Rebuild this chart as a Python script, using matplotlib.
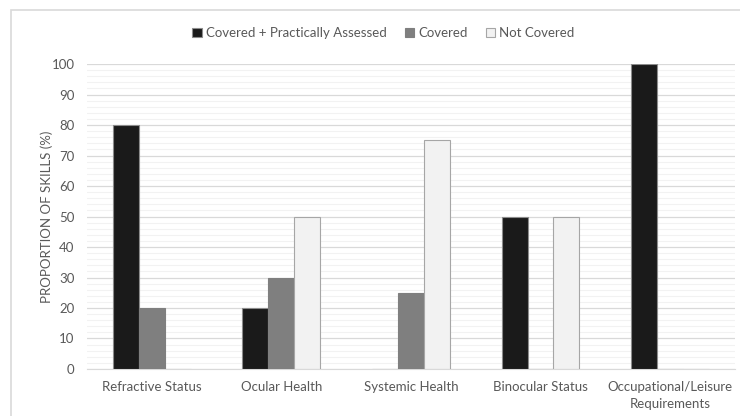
import numpy as np
import matplotlib
matplotlib.use("Agg")
import matplotlib.pyplot as plt
from matplotlib.patches import Rectangle, Patch

categories = ["Refractive Status", "Ocular Health", "Systemic Health",
              "Binocular Status", "Occupational/Leisure\nRequirements"]
covered_assessed = [80, 20, 0, 50, 100]
covered = [20, 30, 25, 0, 0]
not_covered = [0, 50, 75, 50, 0]
series_names = ["Covered + Practically Assessed", "Covered", "Not Covered"]

plt.rcParams['font.family'] = ['Lato', 'DejaVu Sans']
txt = "#595959"

fig = plt.figure(figsize=(7.4, 4.16), dpi=100)
ax = fig.add_axes([0.1176, 0.113, 0.8754, 0.733])

x = np.arange(len(categories))
w = 0.2
styles = [("#1a1a1a", "#8c8c8c"), ("#7f7f7f", "#7f7f7f"), ("#f2f2f2", "#a6a6a6")]
for i, (vals, (fc, ec)) in enumerate(zip([covered_assessed, covered, not_covered], styles)):
    ax.bar(x + (i - 1) * w, vals, w, color=fc, edgecolor=ec, linewidth=0.8, zorder=3)

ax.set_xlim(-0.5, len(categories) - 0.5)
ax.set_ylim(0, 100)
ax.set_yticks(range(0, 101, 10))
ax.set_yticks(range(0, 101, 2), minor=True)
ax.grid(axis="y", which="minor", color="#f2f2f2", linewidth=0.8, zorder=0)
ax.grid(axis="y", which="major", color="#d9d9d9", linewidth=0.9, zorder=1)
ax.set_xticks(x)
ax.set_xticklabels(categories, fontsize=9.5, color=txt, linespacing=1.5)
ax.tick_params(axis="y", labelsize=9.5, labelcolor=txt, length=0, pad=9)
ax.tick_params(axis="x", length=0, pad=9)
ax.tick_params(which="minor", length=0)
for s in ["top", "right", "left"]:
    ax.spines[s].set_visible(False)
ax.spines["bottom"].set_color("#d9d9d9")
ax.set_ylabel("PROPORTION OF SKILLS (%)", fontsize=9.5, color=txt, labelpad=-1)

handles = [Patch(facecolor=fc, edgecolor=ec, linewidth=0.8) for fc, ec in styles]
fig.legend(handles, series_names, loc="center", bbox_to_anchor=(0.518, 0.921), ncol=3,
           frameon=False, fontsize=9.5, labelcolor=txt, handlelength=0.7, handleheight=0.7,
           handletextpad=0.3, columnspacing=1.4)

# outer chart frame
fig.patches.append(Rectangle((11 / 740, -0.1), 1.0, 1 - 10 / 416 + 0.1, transform=fig.transFigure,
                             fill=False, edgecolor="#d9d9d9", linewidth=1.2))

fig.savefig("out.png", dpi=100)
